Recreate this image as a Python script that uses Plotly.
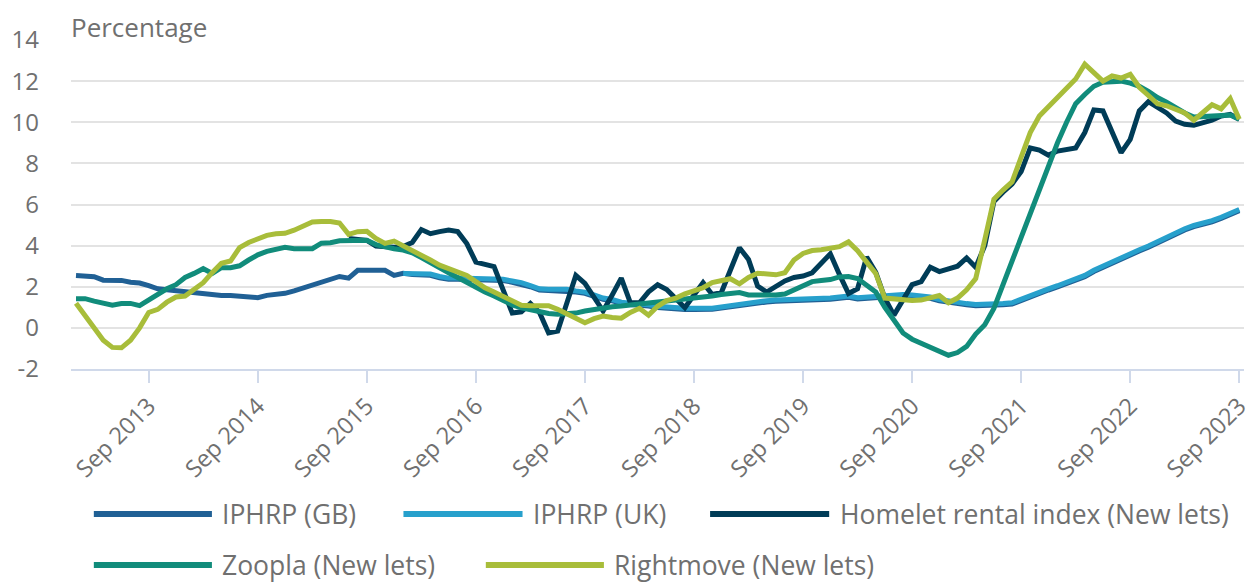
import plotly.graph_objects as go

# ---------------- data ----------------
MONTH_NAMES = ["Jan", "Feb", "Mar", "Apr", "May", "Jun", "Jul", "Aug", "Sep", "Oct", "Nov", "Dec"]
months = [f"{m} {y}" for y in range(2013, 2024) for m in MONTH_NAMES][:129]  # Jan 2013 .. Sep 2023
tick_labels = [f"Sep {y}" for y in range(2013, 2024)]
y_ticks = [-2, 0, 2, 4, 6, 8, 10, 12, 14]
y_tick_text = ["-2", "0", "2", "4", "6", "8", "10", "12", "14"]

iphrp_gb = [2.55, 2.5, 2.49, 2.32, 2.31, 2.31, 2.22, 2.18, 2.05, 1.9,
            1.85, 1.8, 1.78, 1.72, 1.68, 1.65, 1.58, 1.57, 1.55, 1.48,
            1.47, 1.58, 1.63, 1.68, 1.8, 1.95, 2.05, 2.2, 2.35, 2.5,
            2.42, 2.8, 2.8, 2.8, 2.8, 2.55, 2.65, 2.6, 2.6, 2.56,
            2.44, 2.36, 2.36, 2.36, 2.36, 2.36, 2.32, 2.3, 2.22, 2.14,
            2.0, 1.84, 1.82, 1.82, 1.82, 1.74, 1.68, 1.54, 1.39, 1.32,
            1.19, 1.14, 1.12, 1.06, 0.99, 0.94, 0.89, 0.89, 0.89, 0.89,
            0.9, 0.96, 1.03, 1.09, 1.14, 1.19, 1.26, 1.29, 1.3, 1.32,
            1.32, 1.32, 1.34, 1.39, 1.44, 1.49, 1.41, 1.44, 1.49, 1.54,
            1.56, 1.56, 1.54, 1.52, 1.44, 1.32, 1.24, 1.16, 1.12, 1.08,
            1.08, 1.09, 1.12, 1.16, 1.34, 1.54, 1.69, 1.84, 1.99, 2.14,
            2.29, 2.49, 2.74, 2.94, 3.19, 3.39, 3.59, 3.74, 3.92, 4.14,
            4.34, 4.54, 4.76, 4.92, 5.02, 5.16, 5.32, 5.49, 5.7]

# IPHRP (UK) starts Jan 2016
iphrp_uk = [2.65, 2.65, 2.65, 2.62, 2.5, 2.42, 2.42, 2.42, 2.42, 2.42,
            2.38, 2.36, 2.28, 2.2, 2.05, 1.9, 1.88, 1.88, 1.88, 1.8,
            1.74, 1.6, 1.45, 1.38, 1.25, 1.2, 1.18, 1.12, 1.05, 1.0,
            0.95, 0.95, 0.95, 0.95, 0.96, 1.02, 1.09, 1.15, 1.2, 1.25,
            1.32, 1.35, 1.36, 1.38, 1.38, 1.38, 1.4, 1.45, 1.5, 1.55,
            1.47, 1.5, 1.55, 1.6, 1.62, 1.62, 1.6, 1.58, 1.5, 1.38,
            1.3, 1.22, 1.18, 1.14, 1.14, 1.15, 1.18, 1.22, 1.4, 1.6,
            1.75, 1.9, 2.05, 2.2, 2.35, 2.55, 2.8, 3.0, 3.25, 3.45,
            3.65, 3.8, 3.98, 4.2, 4.4, 4.6, 4.82, 4.98, 5.08, 5.22,
            5.38, 5.55, 5.76]

# Homelet starts Jul 2015
homelet = [4.35, 4.3, 4.25, 3.98, 3.92, 3.92, 3.95, 4.15, 4.78, 4.58,
           4.68, 4.76, 4.68, 4.1, 3.2, 3.1, 2.98, 1.85, 0.72, 0.78,
           1.19, 0.75, -0.25, -0.16, 1.2, 2.55, 2.16, 1.5, 0.82, 1.6,
           2.42, 1.22, 1.22, 1.75, 2.1, 1.87, 1.4, 0.98, 1.6, 2.2,
           1.62, 1.71, 2.8, 3.9, 3.33, 2.03, 1.74, 2.0, 2.28, 2.45,
           2.52, 2.68, 3.1, 3.6, 2.6, 1.67, 1.9, 3.45, 2.7, 1.45,
           0.62, 1.35, 2.1, 2.25, 2.95, 2.74, 2.9, 3.0, 3.4, 2.95,
           4.0, 6.15, 6.6, 7.0, 7.6, 8.75, 8.65, 8.4, 8.6, 8.68,
           8.75, 9.5, 10.6, 10.55, 9.5, 8.52, 9.17, 10.55, 11.0, 10.75,
           10.45, 10.06, 9.9, 9.85, 9.95, 10.1, 10.3, 10.38, 10.14]

zoopla = [1.42, 1.42, 1.3, 1.2, 1.1, 1.18, 1.19, 1.08, 1.35, 1.65,
          1.9, 2.1, 2.45, 2.65, 2.88, 2.65, 2.93, 2.93, 3.02, 3.3,
          3.55, 3.72, 3.85, 3.92, 3.85, 3.82, 3.85, 4.12, 4.14, 4.24,
          4.26, 4.26, 4.26, 4.05, 3.92, 3.85, 3.78, 3.65, 3.42, 3.15,
          2.9, 2.68, 2.45, 2.2, 1.95, 1.75, 1.55, 1.3, 1.12, 0.98,
          0.88, 0.78, 0.7, 0.66, 0.68, 0.72, 0.82, 0.9, 0.98, 1.03,
          1.06, 1.1, 1.15, 1.18, 1.24, 1.3, 1.34, 1.4, 1.45, 1.48,
          1.55, 1.62, 1.7, 1.72, 1.6, 1.58, 1.58, 1.6, 1.65, 1.85,
          2.05, 2.25, 2.3, 2.35, 2.48, 2.5, 2.4, 2.1, 1.75, 1.0,
          0.35, -0.25, -0.55, -0.75, -0.9, -1.1, -1.33, -1.2, -0.9, -0.3,
          0.15, 0.95, 2.1, 3.3, 4.5, 5.6, 6.8, 7.9, 9.0, 10.0,
          10.9, 11.35, 11.75, 11.95, 12.0, 12.0, 11.9, 11.75, 11.5, 11.2,
          10.98, 10.7, 10.45, 10.25, 10.28, 10.32, 10.35, 10.35, 10.15]

rightmove = [1.2, 0.6, -0.05, -0.6, -0.95, -0.97, -0.6, 0.0, 0.75, 0.9,
             1.25, 1.5, 1.55, 1.85, 2.2, 2.7, 3.14, 3.25, 3.9, 4.15,
             4.3, 4.5, 4.58, 4.6, 4.75, 4.95, 5.15, 5.17, 5.17, 5.1,
             4.55, 4.68, 4.7, 4.35, 4.11, 4.22, 4.0, 3.78, 3.55, 3.3,
             3.05, 2.9, 2.75, 2.55, 2.25, 1.95, 1.75, 1.55, 1.3, 1.1,
             1.08, 1.05, 1.08, 0.9, 0.7, 0.5, 0.25, 0.45, 0.57, 0.5,
             0.47, 0.75, 0.95, 0.62, 1.05, 1.33, 1.45, 1.65, 1.8, 1.95,
             2.2, 2.3, 2.39, 2.14, 2.45, 2.66, 2.6, 2.58, 2.68, 3.3,
             3.62, 3.76, 3.8, 3.85, 3.95, 4.18, 3.75, 3.2, 2.65, 1.45,
             1.4, 1.38, 1.33, 1.35, 1.45, 1.57, 1.22, 1.45, 1.85, 2.4,
             4.3, 6.25, 6.7, 7.1, 8.3, 9.5, 10.3, 10.75, 11.2, 11.6,
             12.1, 12.82, 12.4, 12.0, 12.25, 12.15, 12.33, 11.7, 11.3, 10.9,
             10.8, 10.6, 10.45, 10.1, 10.45, 10.85, 10.65, 11.15, 10.15]

series = [
    ("IPHRP (GB)", months, iphrp_gb, "#206095"),
    ("IPHRP (UK)", months[36:], iphrp_uk, "#27a0cc"),
    ("Homelet rental index (New lets)", months[30:], homelet, "#003c57"),
    ("Zoopla (New lets)", months, zoopla, "#118c7b"),
    ("Rightmove (New lets)", months, rightmove, "#a8bd3a"),
]

# ---------------- layout geometry ----------------
# the page body has an 8px margin, so the figure sits at (8, 8) in the window
OFF = 8
W, H = 1256 - OFF, 583 - OFF
ML, MR, MT, MB = 70 - OFF, 4, 40 - OFF, 214
PW, PH = W - ML - MR, H - MT - MB
FONT = "Open Sans"
TXT = "#707070"


def px_x(px):
    """window pixel x -> paper coordinate"""
    return (px - OFF - ML) / PW


def px_y(py):
    """window pixel y -> paper coordinate"""
    return (H - MB - (py - OFF)) / PH


fig = go.Figure()
for name, xs, ys, col in series:
    fig.add_trace(go.Scatter(x=xs, y=ys, name=name, mode="lines",
                             line=dict(color=col, width=5),
                             showlegend=False))

# manual legend (layout only)
legend_items = [
    (0, 93, 212, 221, 514),
    (1, 405, 525, 535, 514),
    (2, 714, 834, 844, 514),
    (3, 93, 212, 221, 565),
    (4, 488, 607, 616, 565),
]
shapes = []
annotations = []
for idx, x0, x1, xt, yy in legend_items:
    name, _, _, col = series[idx]
    shapes.append(dict(type="line", xref="paper", yref="paper",
                       x0=px_x(x0), x1=px_x(x1), y0=px_y(yy), y1=px_y(yy),
                       line=dict(color=col, width=6)))
    annotations.append(dict(text=name, xref="paper", yref="paper",
                            x=px_x(xt), y=px_y(yy), xanchor="left", yanchor="middle",
                            borderpad=0,
                            showarrow=False, font=dict(family=FONT, size=26.5, color=TXT)))

annotations.append(dict(text="Percentage", xref="paper", yref="paper",
                        x=px_x(69), y=px_y(OFF), xanchor="left", yanchor="top",
                        borderpad=0,
                        showarrow=False, font=dict(family=FONT, size=26, color=TXT)))

fig.update_layout(
    width=W, height=H,
    margin=dict(l=ML, r=MR, t=MT, b=MB),
    paper_bgcolor="white", plot_bgcolor="white",
    font=dict(family=FONT, color=TXT),
    shapes=shapes,
    annotations=annotations,
    showlegend=False,
    xaxis=dict(
        type="category",
        range=[-0.55, 128.52],
        tickmode="array", tickvals=tick_labels, ticktext=tick_labels,
        tickangle=-45,
        showgrid=False,
        showline=True, linecolor="#d0d9ea", linewidth=2,
        ticks="outside", ticklen=12, tickwidth=2, tickcolor="#d0d9ea",
        tickfont=dict(family=FONT, size=23.5, color=TXT),
        zeroline=False,
    ),
    yaxis=dict(
        range=[-2, 14],
        tickmode="array", tickvals=y_ticks, ticktext=y_tick_text,
        showgrid=True, gridcolor="#e3e3e3", gridwidth=2,
        zeroline=False, showline=False,
        ticks="", ticklabelstandoff=31,
        tickfont=dict(family=FONT, size=24, color=TXT),
    ),
)

fig.write_html("out.html")
